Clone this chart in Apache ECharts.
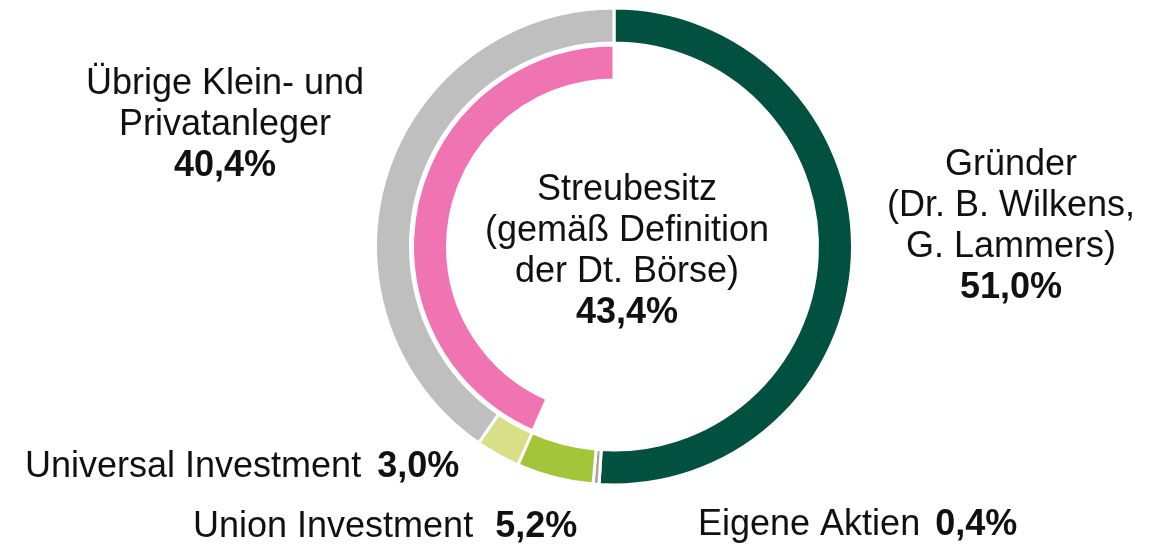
<!DOCTYPE html>
<html>
<head>
<meta charset="utf-8">
<script src="https://cdn.jsdelivr.net/npm/echarts@6.0.0/dist/echarts.min.js"></script>
<style>
  html, body { margin: 0; padding: 0; background: #fff; }
  #chart { width: 1170px; height: 549px; }
</style>
</head>
<body>
<div id="chart"></div>
<script>
// Aktionärsstruktur – äußerer Ring (im Uhrzeigersinn ab 12 Uhr)
const outerNames = ['Gründer\n(Dr. B. Wilkens,\nG. Lammers)', 'Eigene Aktien', 'Union Investment', 'Universal Investment', 'Übrige Klein- und\nPrivatanleger']
const outerValues = [51.0, 0.4, 5.2, 3.0, 40.4]
const outerColors = ['#02503f', '#a6a6a6', '#a3c53a', '#d9df86', '#bfbfbf']

// innerer Ring: Streubesitz (gegen den Uhrzeigersinn ab 12 Uhr)
const innerNames = ['', 'Streubesitz\n(gemäß Definition\nder Dt. Börse)']
const innerValues = [56.6, 43.4]

// Label-Positionen (Mitte bzw. linker Rand des Textblocks) und Abstand vor der Prozentzahl
const outerLabelPos = [
  { x: 1011, y: 227, align: 'center' },
  { x: 698, y: 525, align: 'left', gap: 15 },
  { x: 193, y: 527, align: 'left', gap: 22 },
  { x: 25, y: 467, align: 'left', gap: 16 },
  { x: 225, y: 125, align: 'center' }
]
const innerLabelPos = [null, { x: 627, y: 252, align: 'center' }]

const pct = (v) => v.toFixed(1).replace('.', ',') + '%'

// mehrzeilige Labels: Name normal, Prozent fett
const fmt = (p) => {
  const lines = p.name.split('\n')
  if (lines.length === 1) {
    const gap = (outerLabelPos[p.dataIndex] || {}).gap || 10
    return '{n|' + p.name + '}{g' + gap + '|}{b|' + pct(p.value) + '}'
  }
  return lines.map(l => '{n|' + l + '}').join('\n') + '\n{b|' + pct(p.value) + '}'
}

const richStyle = {
  n: { fontFamily: 'Liberation Sans, Arial, sans-serif', fontSize: 36, color: '#111', lineHeight: 41 },
  b: { fontFamily: 'Liberation Sans, Arial, sans-serif', fontSize: 36, fontWeight: 'bold', color: '#111', lineHeight: 41 },
  g10: { width: 10 }, g15: { width: 15 }, g16: { width: 16 }, g22: { width: 22 }
}

const layoutFrom = (pos) => (params) => {
  const p = pos[params.dataIndex]
  if (!p) return {}
  return { x: p.x, y: p.y, align: p.align, verticalAlign: 'middle', hideOverlap: false }
}

const myChart = echarts.init(document.getElementById('chart'), null, { renderer: 'canvas' })

const option = {
  animation: false,
  series: [
    {
      name: 'Aktionäre',
      type: 'pie',
      center: [614, 246.5],
      radius: [203.5, 238.5],
      startAngle: 90,
      clockwise: true,
      silent: true,
      avoidLabelOverlap: false,
      itemStyle: { borderColor: '#fff', borderWidth: 3 },
      label: { show: true, formatter: fmt, rich: richStyle },
      labelLine: { show: false },
      labelLayout: layoutFrom(outerLabelPos),
      emphasis: { disabled: true },
      data: outerValues.map((v, i) => ({
        name: outerNames[i],
        value: v,
        itemStyle: { color: outerColors[i] }
      }))
    },
    {
      name: 'Streubesitz',
      type: 'pie',
      center: [614, 246.5],
      radius: [166.5, 201.5],
      startAngle: 90,
      clockwise: true,
      silent: true,
      avoidLabelOverlap: false,
      label: { show: true, formatter: fmt, rich: richStyle },
      labelLine: { show: false },
      labelLayout: layoutFrom(innerLabelPos),
      emphasis: { disabled: true },
      data: innerValues.map((v, i) => ({
        name: innerNames[i],
        value: v,
        itemStyle: i === 0
          ? { color: 'rgba(0,0,0,0)', borderWidth: 0 }
          : { color: '#f174b2', borderColor: '#fff', borderWidth: 3 },
        label: { show: i !== 0 }
      }))
    }
  ]
}

myChart.setOption(option)
window.addEventListener('resize', () => {
  myChart?.resize()
})
</script>
</body>
</html>
